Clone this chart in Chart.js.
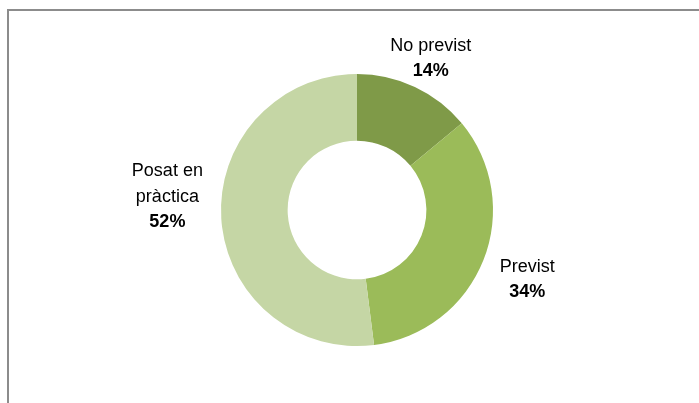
<!DOCTYPE html>
<html>
<head>
<meta charset="utf-8">
<script src="https://cdn.jsdelivr.net/npm/chart.js@4/dist/chart.umd.min.js"></script>
<style>
  body { margin: 0; background: #fff; }
  #wrap { position: relative; width: 699px; height: 403px; }
  #frame { position: absolute; left: 7px; top: 9px; right: 0; bottom: 0;
           border-top: 2px solid #8c8c8c; border-left: 2px solid #8c8c8c; }
  canvas { position: absolute; left: 0; top: 0; }
</style>
</head>
<body>
<div id="wrap">
  <div id="frame"></div>
  <canvas id="Chart" width="699" height="403"></canvas>
</div>
<script>
const categories = [['No previst'], ['Previst'], ['Posat en', 'pràctica']];
const values = [14, 34, 52];
const colors = ['#7f9a48', '#9bbb59', '#c5d6a5'];

// label offsets from the slice's mid-angle anchor (px)
const labelShift = [[0, 5], [0, 2], [0, -25]];

const labelPlugin = {
    id: 'outLabels',
    afterDatasetsDraw(chart) {
        const ctx = chart.ctx;
        const meta = chart.getDatasetMeta(0);
        ctx.save();
        ctx.fillStyle = '#000';
        ctx.textAlign = 'center';
        ctx.textBaseline = 'middle';
        meta.data.forEach((arc, i) => {
            const mid = (arc.startAngle + arc.endAngle) / 2;
            const dist = [173, 183, 190][i];
            const x = arc.x + Math.cos(mid) * dist + labelShift[i][0];
            const y = arc.y + Math.sin(mid) * dist + labelShift[i][1];
            const lines = categories[i];
            const total = lines.length + 1;
            const lh = 25.5;
            let y0 = y - (total - 1) * lh / 2;
            ctx.font = '18px "Liberation Sans", Arial, sans-serif';
            lines.forEach((t, k) => ctx.fillText(t, x, y0 + k * lh));
            ctx.font = 'bold 18px "Liberation Sans", Arial, sans-serif';
            ctx.fillText(values[i] + '%', x, y0 + lines.length * lh);
        });
        ctx.restore();
    }
};

window.addEventListener('load', setup);

function setup() {
    const ctx = document.getElementById('Chart').getContext('2d');
    new Chart(ctx, {
        type: 'doughnut',
        data: {
            labels: categories.map(c => c.join(' ')),
            datasets: [{
                data: values,
                backgroundColor: colors,
                borderWidth: 0
            }]
        },
        options: {
            responsive: false,
            animation: false,
            cutout: '51%',
            layout: { padding: { top: 74, bottom: 57, left: 221, right: 206 } },
            plugins: { legend: { display: false }, tooltip: { enabled: false } }
        },
        plugins: [labelPlugin]
    });
}
</script>
</body>
</html>
